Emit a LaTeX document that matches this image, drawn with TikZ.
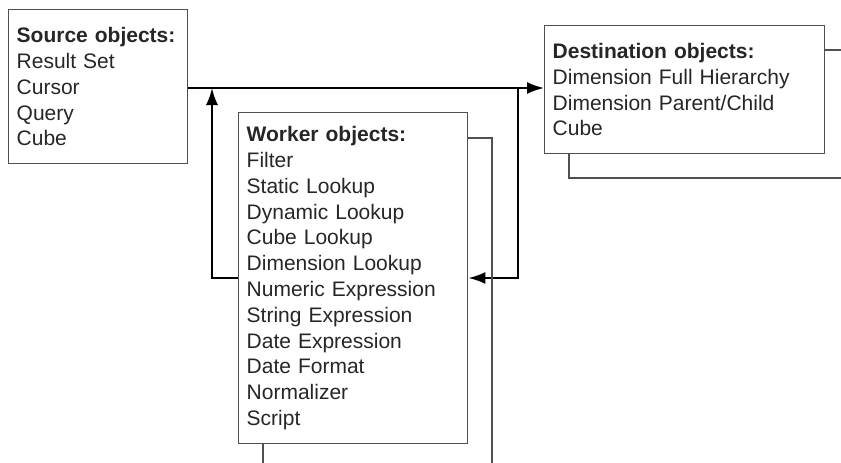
\documentclass[tikz,border=0pt]{standalone}
\usepackage{fontspec}
\setmainfont{Liberation Sans}
\usetikzlibrary{arrows.meta}
\definecolor{boxline}{HTML}{505050}
\definecolor{txt}{HTML}{262626}
\begin{document}
\begin{tikzpicture}[x=1pt, y=-1pt,
        box/.style={rectangle, draw=boxline, line width=1.4pt, anchor=north west, inner xsep=7pt,
          align=left, text=txt, font=\fontsize{21}{25.8}\selectfont},
        arrow/.style={->, >={Latex[length=17pt,width=12pt]}, line width=2pt},
        edge/.style={draw=boxline, line width=1.4pt}
      ]
      \useasboundingbox (0,0) rectangle (841,463);

      % Source objects
      \node[box, minimum width=179pt, minimum height=154pt, text width=163pt] (src) at (8,9)
        {\textbf{Source objects:}\\Result Set\\Cursor\\Query\\Cube};

      % Destination objects
      \node[box, minimum width=280pt, minimum height=128pt, text width=264pt] (dst) at (544,25)
        {\textbf{Destination objects:}\\Dimension Full Hierarchy\\Dimension Parent/Child\\Cube};

      % Worker objects
      \node[box, minimum width=229pt, minimum height=331pt, text width=213pt] (wrk) at (238,112)
        {\textbf{Worker objects:}\\Filter\\Static Lookup\\Dynamic Lookup\\Cube Lookup\\Dimension Lookup\\Numeric Expression\\String Expression\\Date Expression\\Date Format\\Normalizer\\Script};

      % Junctions on the main line
      \coordinate (join) at (212,88);
      \coordinate (split) at (518,88);

      % Main flow
      \draw[arrow] (src.east |- join) -- (join -| dst.west);

      % Worker loop
      \draw[arrow] (wrk.west |- 0,278) -- (212,278) -- (join);
      \draw[arrow] (split) -- (518,278) -- (wrk.east |- 0,278);

      % Boxes behind
      \draw[edge] (wrk.east |- 0,138) -- (492,138) -- (492,463);
      \draw[edge] (263,443) -- (263,463);
      \draw[edge] (dst.east |- 0,50) -- (841,50);
      \draw[edge] (569,153) -- (569,178) -- (841,178);
    \end{tikzpicture}
\end{document}
